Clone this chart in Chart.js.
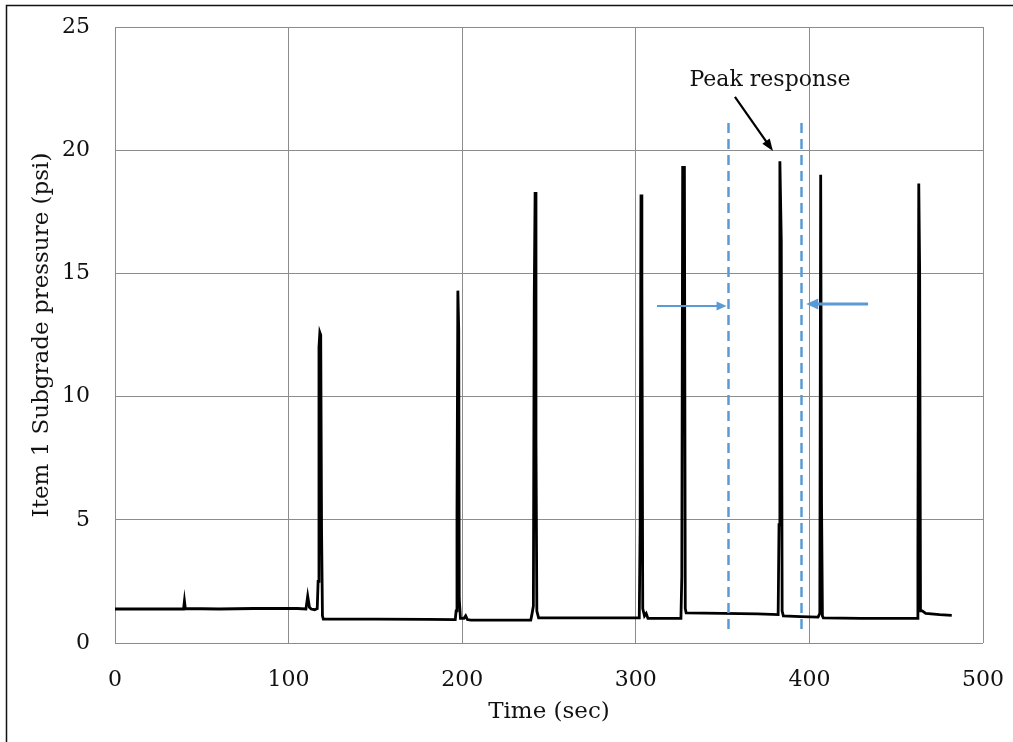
<!DOCTYPE html>
<html>
<head>
<meta charset="utf-8">
<script src="https://cdn.jsdelivr.net/npm/chart.js@4.4.1/dist/chart.umd.min.js"></script>
<style>
  html, body { margin: 0; padding: 0; background: #fff; }
  #wrap { position: relative; width: 1013px; height: 742px; }
</style>
</head>
<body>
<div id="wrap">
  <canvas id="chart" width="1013" height="742"></canvas>
</div>
<script>
// pressure trace
const timeSec = [
  0, 20, 39.5, 40, 40.5, 60, 80, 105, 110, 111, 112, 113, 115, 116.5, 117, 117.5, 118, 118.5, 119, 119.5, 120,
  150, 180, 196, 196.5, 197, 197.5, 198, 198.3, 199, 201, 202, 203, 205, 220, 239.5, 240, 241, 241.5, 242, 242.5,
  243, 244, 270, 302, 302.5, 303, 303.5, 304, 305, 306, 307, 320, 326, 326.5, 327, 328, 328.5, 329, 350, 370,
  382, 382.5, 383, 383.8, 384.3, 385, 395, 405, 406, 406.5, 407, 407.5, 408, 430, 462, 462.5, 463, 463.5, 464,
  465, 467, 475, 482
];
const pressurePsi = [
  1.38, 1.38, 1.38, 1.7, 1.4, 1.38, 1.4, 1.4, 1.38, 1.9, 1.45, 1.38, 1.35, 1.4, 2.5, 12.0, 12.6, 12.5, 4.5, 1.1, 0.97,
  0.97, 0.96, 0.95, 1.3, 5.2, 14.3, 12.7, 1.8, 1.0, 1.0, 1.1, 0.95, 0.93, 0.93, 0.93, 1.1, 1.5, 14.0, 18.3, 8.2,
  1.3, 1.02, 1.02, 1.02, 4.7, 18.2, 14.6, 1.4, 1.1, 1.2, 1.0, 1.0, 1.0, 2.7, 19.3, 19.3, 1.4, 1.22, 1.2, 1.18,
  1.15, 4.8, 19.55, 16.3, 1.3, 1.1, 1.07, 1.05, 1.2, 19.0, 5.6, 1.1, 1.02, 1.0, 1.0, 3.6, 18.65, 15.2, 1.3,
  1.3, 1.2, 1.15, 1.12
];

const xTicks = [0, 100, 200, 300, 400, 500];
const yTicks = [0, 5, 10, 15, 20, 25];

// annotation marks (data units)
const windowLines = [353, 395.2];
const windowSpan = [0.4, 21.1];
const leftArrow = { from: [312.2, 13.68], to: [352.3, 13.68] };
const rightArrow = { from: [433.8, 13.76], to: [398.2, 13.76] };
const peakArrow = { from: [357.1, 22.16], to: [379.0, 19.97] };
const peakLabel = { text: 'Peak response', at: [377.3, 22.85] };

const SERIF = '"DejaVu Serif", "Liberation Serif", serif';
const GRID = '#8c8c8c';
const BLUE = '#5b9bd5';

function arrowHead(ctx, x1, y1, x2, y2, len, wid) {
  const a = Math.atan2(y2 - y1, x2 - x1);
  ctx.beginPath();
  ctx.moveTo(x2, y2);
  ctx.lineTo(x2 - len * Math.cos(a) + wid * Math.sin(a), y2 - len * Math.sin(a) - wid * Math.cos(a));
  ctx.lineTo(x2 - len * Math.cos(a) - wid * Math.sin(a), y2 - len * Math.sin(a) + wid * Math.cos(a));
  ctx.closePath();
  ctx.fill();
}

function drawArrow(ctx, xs, ys, arrow, color, width, len, wid) {
  const x1 = xs.getPixelForValue(arrow.from[0]);
  const y1 = ys.getPixelForValue(arrow.from[1]);
  const x2 = xs.getPixelForValue(arrow.to[0]);
  const y2 = ys.getPixelForValue(arrow.to[1]);
  const a = Math.atan2(y2 - y1, x2 - x1);
  ctx.strokeStyle = color;
  ctx.fillStyle = color;
  ctx.lineWidth = width;
  ctx.beginPath();
  ctx.moveTo(x1, y1);
  ctx.lineTo(x2 - (len - 2) * Math.cos(a), y2 - (len - 2) * Math.sin(a));
  ctx.stroke();
  arrowHead(ctx, x1, y1, x2, y2, len, wid);
}

const frame = {
  id: 'frame',
  beforeDraw(chart) {
    const ctx = chart.ctx;
    ctx.save();
    ctx.fillStyle = '#fff';
    ctx.fillRect(0, 0, chart.width, chart.height);
    ctx.strokeStyle = '#111';
    ctx.lineWidth = 1.5;
    ctx.beginPath();
    ctx.moveTo(6.5, chart.height);
    ctx.lineTo(6.5, 5.5);
    ctx.lineTo(chart.width, 5.5);
    ctx.stroke();
    ctx.restore();
  }
};

const notes = {
  id: 'notes',
  afterDatasetsDraw(chart) {
    const ctx = chart.ctx;
    const xs = chart.scales.x;
    const ys = chart.scales.y;
    ctx.save();
    ctx.strokeStyle = BLUE;
    ctx.lineWidth = 2.5;
    ctx.setLineDash([10, 6]);
    windowLines.forEach((t) => {
      const px = Math.round(xs.getPixelForValue(t)) + 0.5;
      ctx.beginPath();
      ctx.moveTo(px, ys.getPixelForValue(windowSpan[1]));
      ctx.lineTo(px, ys.getPixelForValue(windowSpan[0]));
      ctx.stroke();
    });
    ctx.setLineDash([]);
    drawArrow(ctx, xs, ys, leftArrow, BLUE, 2, 10, 4.5);
    drawArrow(ctx, xs, ys, rightArrow, BLUE, 3, 12, 5.5);
    drawArrow(ctx, xs, ys, peakArrow, '#000', 2.2, 12, 4.5);
    ctx.fillStyle = '#111';
    ctx.font = '22px ' + SERIF;
    ctx.textAlign = 'center';
    ctx.textBaseline = 'middle';
    ctx.fillText(peakLabel.text, xs.getPixelForValue(peakLabel.at[0]), ys.getPixelForValue(peakLabel.at[1]));
    ctx.restore();
  }
};

const points = timeSec.map((t, i) => ({ x: t, y: pressurePsi[i] }));

new Chart(document.getElementById('chart'), {
  type: 'scatter',
  data: {
    datasets: [
      {
        label: 'Item 1 Subgrade pressure',
        data: points,
        showLine: true,
        borderColor: '#000',
        borderWidth: 2.8,
        pointRadius: 0,
        tension: 0,
      },
    ],
  },
  options: {
    responsive: false,
    animation: false,
    events: [],
    layout: { padding: { top: 27, right: 30, left: 0, bottom: 0 } },
    plugins: {
      legend: { display: false },
      tooltip: { enabled: false },
    },
    scales: {
      x: {
        type: 'linear',
        min: 0,
        max: 500,
        afterBuildTicks: (scale) => { scale.ticks = xTicks.map((v) => ({ value: v })); },
        afterFit: (scale) => {
          scale.height = 99;
          scale.paddingLeft = 0;
          scale.paddingRight = 0;
        },
        grid: { color: GRID, lineWidth: 1, drawTicks: false },
        border: { display: false },
        ticks: {
          padding: 24,
          maxRotation: 0,
          color: '#111',
          font: { family: SERIF, size: 22 },
        },
        title: {
          display: true,
          text: 'Time (sec)',
          color: '#111',
          font: { family: SERIF, size: 23 },
          padding: { top: 0, bottom: 16 },
        },
      },
      y: {
        type: 'linear',
        min: 0,
        max: 25,
        afterBuildTicks: (scale) => { scale.ticks = yTicks.map((v) => ({ value: v })); },
        afterFit: (scale) => {
          scale.width = 115;
          scale.paddingTop = 0;
          scale.paddingBottom = 0;
        },
        grid: { color: GRID, lineWidth: 1, drawTicks: false },
        border: { display: false },
        ticks: {
          padding: 25,
          color: '#111',
          font: { family: SERIF, size: 22 },
        },
        title: {
          display: true,
          text: 'Item 1 Subgrade pressure (psi)',
          color: '#111',
          font: { family: SERIF, size: 23 },
          padding: { top: 28, bottom: 0 },
        },
      },
    },
  },
  plugins: [frame, notes],
});
</script>
</body>
</html>
